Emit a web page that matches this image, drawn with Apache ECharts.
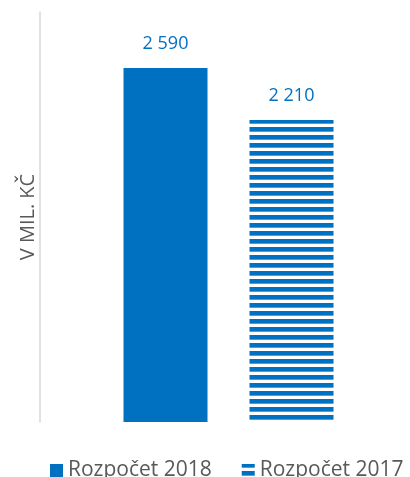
<!DOCTYPE html>
<html>
<head>
<meta charset="utf-8">
<script src="https://cdn.jsdelivr.net/npm/echarts@6/dist/echarts.min.js"></script>
<style>html,body{margin:0;padding:0;background:#fff;}#c{width:410px;height:477px;}</style>
</head>
<body>
<div id="c"></div>
<script>
const categories = ['Rozpočet'];
const seriesNames = ['Rozpočet 2018', 'Rozpočet 2017'];
const values2018 = [2590];
const values2017 = [2210];
const axisName = 'V MIL. KČ';

const BLUE = '#0070c0';
function stripePattern() {
  const c = document.createElement('canvas');
  c.width = 8; c.height = 8;
  const g = c.getContext('2d');
  g.fillStyle = '#ffffff'; g.fillRect(0, 0, 8, 8);
  g.fillStyle = BLUE; g.fillRect(0, 7, 8, 1); g.fillRect(0, 0, 8, 3);
  g.fillStyle = '#5b9bd5'; g.fillRect(0, 3, 8, 1);
  return c;
}
const pattern = { image: stripePattern(), repeat: 'repeat' };

const chart = echarts.init(document.getElementById('c'), null, { renderer: 'canvas' });
const labelStyle = {
  show: true, position: 'top', distance: 15,
  color: BLUE, fontSize: 18, fontFamily: 'Open Sans',
  formatter: p => String(p.value).replace(/\B(?=(\d{3})+(?!\d))/g, ' ')
};
chart.setOption({
  animation: false,
  textStyle: { fontFamily: 'Open Sans' },
  grid: { left: 47, top: 12, bottom: 55, width: 363 },
  legend: {
    data: seriesNames, top: 455, left: 45, icon: 'rect',
    itemWidth: 13, itemHeight: 13, itemGap: 30,
    textStyle: { fontSize: 21, color: '#595959', fontFamily: 'Open Sans' }
  },
  xAxis: {
    type: 'category', data: categories,
    axisLine: { show: false }, axisTick: { show: false }, axisLabel: { show: false }
  },
  yAxis: {
    type: 'value', min: 0, max: 3000, offset: 7,
    name: axisName, nameLocation: 'middle', nameGap: 2,
    nameTextStyle: { fontSize: 20, color: '#595959', fontFamily: 'Open Sans' },
    axisLine: { show: true, lineStyle: { color: '#d9d9d9', width: 1.5 } },
    axisTick: { show: false }, axisLabel: { show: false }, splitLine: { show: false }
  },
  series: [
    { name: seriesNames[0], type: 'bar', data: values2018, barWidth: 84, barGap: '50%',
      itemStyle: { color: BLUE }, label: labelStyle },
    { name: seriesNames[1], type: 'bar', data: values2017, barWidth: 84,
      itemStyle: { color: pattern }, label: labelStyle }
  ]
});
</script>
</body>
</html>
